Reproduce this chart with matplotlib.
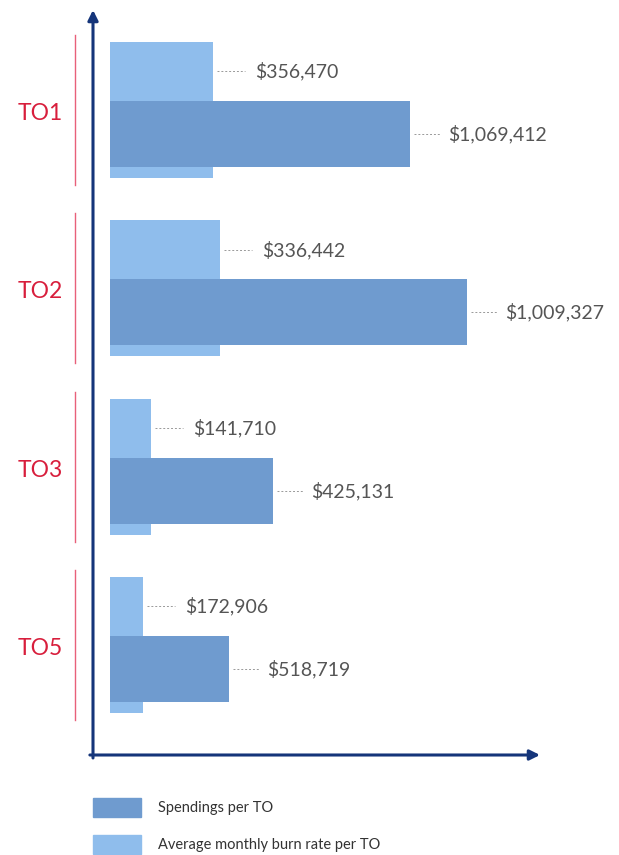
import matplotlib
matplotlib.use("Agg")
import matplotlib.pyplot as plt
from matplotlib.patches import Patch
import numpy as np

plt.rcParams['font.family'] = ['Lato', 'DejaVu Sans']

# task orders
categories = ["TO1", "TO2", "TO3", "TO5"]
spend_labels = ["$1,069,412", "$1,009,327", "$425,131", "$518,719"]
burn_labels = ["$356,470", "$336,442", "$141,710", "$172,906"]
# bar lengths as drawn in the source (not to scale with the labels)
spend_len = [300, 357, 163, 119]
burn_len = [103, 110, 41, 33]
legend_labels = ["Spendings per TO", "Average monthly burn rate per TO"]

dark_blue = "#6f9bcf"
light_blue = "#8fbdec"
axis_col = "#15357a"
red = "#d81e3c"
line_red = "#e8607a"
text_col = "#555555"

fig = plt.figure(figsize=(6.19, 8.55), dpi=100)
ax = fig.add_axes([93 / 619, 100 / 855, 447 / 619, 745 / 855])
ax.set_xlim(0, 447)
ax.set_ylim(3.617, -0.561)
ax.axis("off")

y = np.arange(len(categories))
start = 17
ax.barh(y, burn_len, left=start, height=0.764, color=light_blue, zorder=2)
ax.barh(y + 0.135, spend_len, left=start, height=0.371, color=dark_blue, zorder=3)

for i in range(len(categories)):
    # burn rate label, centred on the exposed top of the light bar
    yb = i - 0.382 + 0.165
    xe = start + burn_len[i]
    ax.plot([xe + 4, xe + 32], [yb, yb], ls=(0, (2, 2)), lw=0.7, color="#999999")
    ax.text(xe + 42, yb, burn_labels[i], va="center", ha="left",
            fontsize=14, color=text_col)
    ys = i + 0.135
    xe = start + spend_len[i]
    ax.plot([xe + 4, xe + 30], [ys, ys], ls=(0, (2, 2)), lw=0.7, color="#999999")
    ax.text(xe + 38, ys, spend_labels[i], va="center", ha="left",
            fontsize=14, color=text_col)
    # red category marker
    ax.plot([-18, -18], [i - 0.42, i + 0.42], color=line_red, lw=1.0, clip_on=False)
    ax.text(-53, i + 0.02, categories[i], ha="center", va="center",
            fontsize=16.5, color=red, clip_on=False)

# axes arrows
ax.annotate("", xy=(0, 1.0), xytext=(0, -0.004), xycoords="axes fraction",
            arrowprops=dict(arrowstyle="-|>,head_length=0.6,head_width=0.3",
                            color=axis_col, lw=2.2, shrinkA=0, shrinkB=0))
ax.annotate("", xy=(1.0, 0), xytext=(-0.007, 0), xycoords="axes fraction",
            arrowprops=dict(arrowstyle="-|>,head_length=0.6,head_width=0.3",
                            color=axis_col, lw=2.2, shrinkA=0, shrinkB=0))

handles = [Patch(color=dark_blue), Patch(color=light_blue)]
fig.legend(handles, legend_labels, loc="upper left",
           bbox_to_anchor=(80 / 619, 1 - 785 / 855), frameon=False,
           fontsize=10.5, handlelength=3.3, handleheight=1.6,
           labelspacing=1.25, handletextpad=1.15, labelcolor="#333333")

fig.savefig("out.png", dpi=100)
